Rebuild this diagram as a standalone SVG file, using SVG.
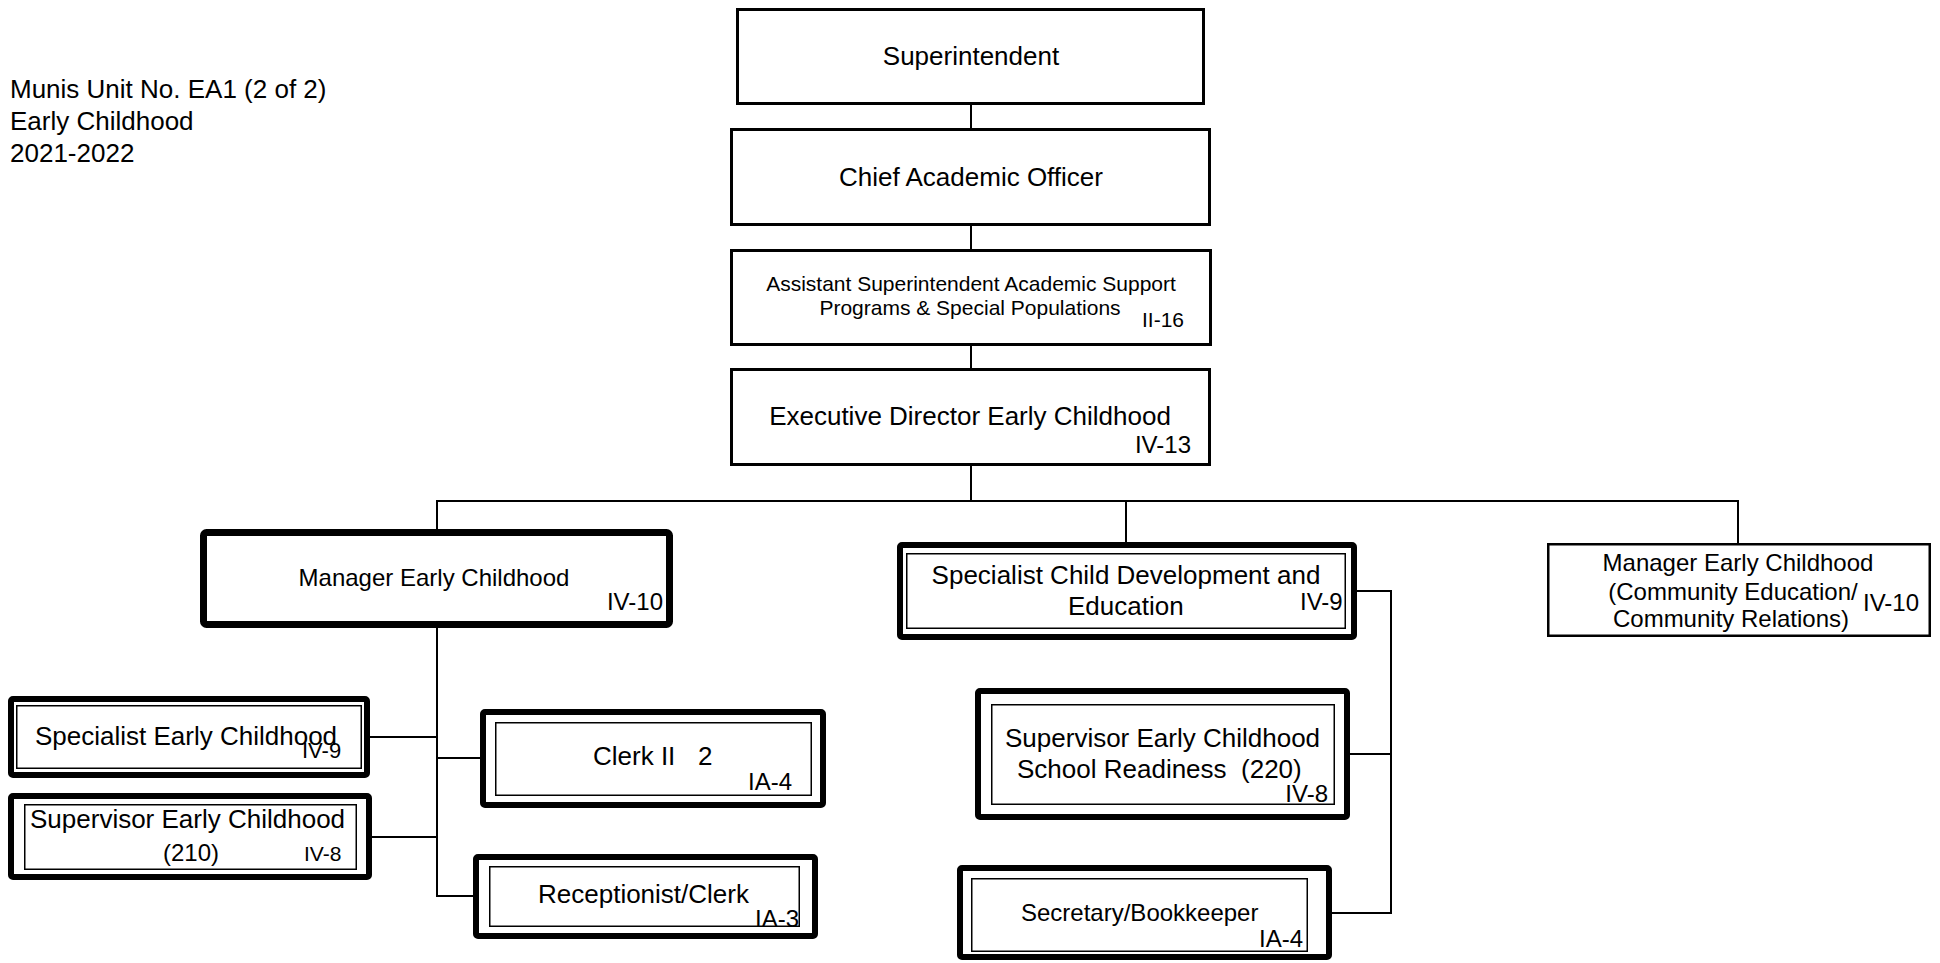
<svg xmlns="http://www.w3.org/2000/svg" width="1940" height="963" viewBox="0 0 1940 963">
<style>
text{font-family:"Liberation Sans",Arial,sans-serif;fill:#000}
.t26{font-size:26px}
.t24{font-size:24px}
.t21{font-size:21px}
.c{text-anchor:middle}
.e{text-anchor:end}
.box{fill:#fff;stroke:#000;stroke-width:3}
.thick{fill:#fff;stroke:#000;stroke-width:6}
.inner{fill:none;stroke:#000;stroke-width:1.5}
.conn line{stroke:#000;stroke-width:2}
</style>
<rect width="1940" height="963" fill="#fff"/>
<g id="title">
<text class="t26" x="10" y="98">Munis Unit No. EA1 (2 of 2)</text>
<text class="t26" x="10" y="130">Early Childhood</text>
<text class="t26" x="10" y="162">2021-2022</text>
</g>
<g class="conn" id="connectors">
<line x1="971" y1="105" x2="971" y2="128"/>
<line x1="971" y1="226" x2="971" y2="249"/>
<line x1="971" y1="346" x2="971" y2="368"/>
<line x1="971" y1="466" x2="971" y2="501"/>
<line x1="436" y1="501" x2="1739" y2="501"/>
<line x1="437" y1="501" x2="437" y2="529"/>
<line x1="1126" y1="501" x2="1126" y2="542"/>
<line x1="1738" y1="501" x2="1738" y2="543"/>
<line x1="437" y1="628" x2="437" y2="897"/>
<line x1="370" y1="737" x2="437" y2="737"/>
<line x1="437" y1="758" x2="480" y2="758"/>
<line x1="372" y1="837" x2="437" y2="837"/>
<line x1="436" y1="896" x2="473" y2="896"/>
<line x1="1357" y1="591" x2="1392" y2="591"/>
<line x1="1391" y1="590" x2="1391" y2="914"/>
<line x1="1350" y1="754" x2="1391" y2="754"/>
<line x1="1332" y1="913" x2="1392" y2="913"/>
</g>
<g id="superintendent">
<rect class="box" x="737.5" y="9.5" width="466" height="94"/>
<text class="t26 c" x="971" y="65">Superintendent</text>
</g>
<g id="chief-academic-officer">
<rect class="box" x="731.5" y="129.5" width="478" height="95"/>
<text class="t26 c" x="971" y="186">Chief Academic Officer</text>
</g>
<g id="assistant-superintendent">
<rect class="box" x="731.5" y="250.5" width="479" height="94"/>
<text class="t21 c" x="971" y="291">Assistant Superintendent Academic Support</text>
<text class="t21 c" x="970" y="315">Programs &amp; Special Populations</text>
<text class="t21" x="1142" y="327">II-16</text>
</g>
<g id="executive-director">
<rect class="box" x="731.5" y="369.5" width="478" height="95"/>
<text class="t26 c" x="970" y="425">Executive Director Early Childhood</text>
<text class="t24 e" x="1191" y="453">IV-13</text>
</g>
<g id="manager-early-childhood">
<rect x="203.5" y="532.5" width="466" height="92" rx="3" fill="#fff" stroke="#000" stroke-width="7"/>
<text class="t24 c" x="434" y="586">Manager Early Childhood</text>
<text class="t24 e" x="663" y="610">IV-10</text>
</g>
<g id="specialist-early-childhood">
<rect class="thick" x="11" y="699" width="356" height="76" rx="2"/>
<rect class="inner" x="16.75" y="705.75" width="344.5" height="62.5"/>
<text class="t26" x="35" y="745">Specialist Early Childhood</text>
<text class="t24" x="302" y="758" style="font-size:22px">IV-9</text>
</g>
<g id="supervisor-early-childhood-210">
<rect class="thick" x="11" y="796" width="358" height="81" rx="2"/>
<rect class="inner" x="24.75" y="804.75" width="331.5" height="64.5"/>
<text class="t26" x="30" y="828">Supervisor Early Childhood</text>
<text class="t24" x="163" y="861">(210)</text>
<text class="t21" x="304" y="861">IV-8</text>
</g>
<g id="clerk-ii">
<rect class="thick" x="483" y="712" width="340" height="93" rx="2"/>
<rect class="inner" x="495.75" y="722.75" width="315.5" height="72.5"/>
<text class="t26" x="593" y="765">Clerk II<tspan x="698">2</tspan></text>
<text class="t24" x="748" y="790">IA-4</text>
</g>
<g id="receptionist-clerk">
<rect class="thick" x="476" y="857" width="339" height="79" rx="2"/>
<rect class="inner" x="489.75" y="866.75" width="309.5" height="59.5"/>
<text class="t26" x="538" y="903">Receptionist/Clerk</text>
<text class="t24" x="755" y="927">IA-3</text>
</g>
<g id="specialist-child-development">
<rect class="thick" x="900" y="545" width="454" height="92" rx="2"/>
<rect class="inner" x="906.75" y="553.75" width="438.5" height="74.5"/>
<text class="t26 c" x="1126" y="584">Specialist Child Development and</text>
<text class="t26" x="1068" y="615">Education</text>
<text class="t24" x="1300" y="610">IV-9</text>
</g>
<g id="supervisor-school-readiness">
<rect class="thick" x="978" y="691" width="369" height="126" rx="2"/>
<rect class="inner" x="991.75" y="704.75" width="342.5" height="99.5"/>
<text class="t26" x="1005" y="747">Supervisor Early Childhood</text>
<text class="t26" x="1017" y="778" xml:space="preserve">School Readiness  (220)</text>
<text class="t24 e" x="1328" y="802">IV-8</text>
</g>
<g id="secretary-bookkeeper">
<rect class="thick" x="960" y="868" width="369" height="89" rx="2"/>
<rect class="inner" x="971.75" y="878.75" width="335.5" height="72.5"/>
<text class="t24" x="1021" y="921">Secretary/Bookkeeper</text>
<text class="t24 e" x="1303" y="947">IA-4</text>
</g>
<g id="manager-community-education">
<rect x="1548.25" y="544.25" width="381.5" height="91.5" fill="#fff" stroke="#000" stroke-width="2.5"/>
<text class="t24 c" x="1738" y="571">Manager Early Childhood</text>
<text class="t24 c" x="1733" y="600">(Community Education/</text>
<text class="t24 c" x="1731" y="627">Community Relations)</text>
<text class="t24" x="1863" y="611">IV-10</text>
</g>
</svg>
